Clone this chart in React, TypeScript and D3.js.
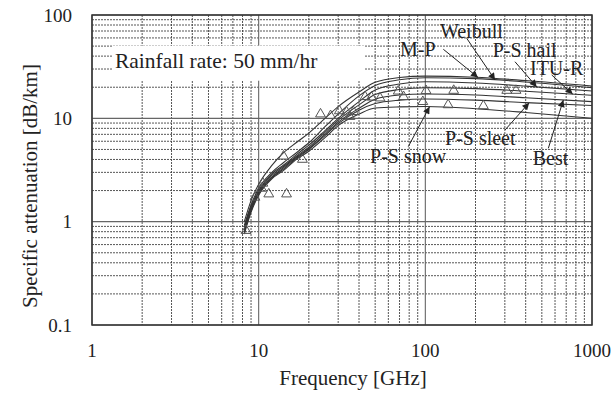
import React from "react";
import * as d3 from "d3";

const FREQS = [8.2, 9, 10, 12, 14, 17, 20, 25, 30, 40, 50, 70, 100, 200, 400, 1000];
const MP = [1.0, 1.6, 2.3, 3.5, 4.6, 5.9, 7.2, 10.0, 13.0, 18.0, 22.3, 24.8, 25.6, 25.0, 23.2, 20.5];
const WEIBULL = [0.92, 1.45, 2.1, 3.0, 3.7, 4.7, 5.8, 8.3, 11.0, 16.5, 20.8, 23.6, 24.7, 24.2, 22.5, 19.8];
const PS_HAIL = [0.88, 1.4, 2.0, 2.9, 3.5, 4.5, 5.5, 7.6, 10.0, 14.5, 18.8, 21.5, 22.6, 22.0, 20.5, 18.4];
const ITU_R = [0.85, 1.35, 1.95, 2.8, 3.4, 4.35, 5.25, 7.3, 9.6, 13.5, 17.0, 19.0, 19.8, 19.4, 18.3, 16.7];
const BEST = [0.82, 1.3, 1.9, 2.7, 3.3, 4.25, 5.1, 7.0, 9.2, 12.5, 15.3, 16.8, 17.2, 16.8, 15.8, 14.5];
const PS_SLEET = [0.79, 1.27, 1.85, 2.65, 3.2, 4.15, 5.0, 6.8, 8.9, 12.0, 13.9, 15.0, 15.4, 15.0, 14.2, 13.3];
const PS_SNOW = [0.76, 1.23, 1.8, 2.6, 3.1, 4.05, 4.8, 6.5, 8.5, 11.0, 12.6, 12.9, 13.0, 12.4, 11.4, 10.0];

const SERIES_NAMES = ["M-P", "Weibull", "P-S hail", "ITU-R", "Best", "P-S sleet", "P-S snow"];
const SERIES_VALUES = [MP, WEIBULL, PS_HAIL, ITU_R, BEST, PS_SLEET, PS_SNOW];

// measured points
const MEAS_FREQ = [8.4, 9.5, 10.4, 10.6, 11.5, 14.7, 14.1, 18.3, 23.5, 27, 30.5, 33.7, 35.3, 37, 43.5, 47.5, 53.5, 68.8, 74, 96.6, 101, 137, 148, 223, 308, 350];
const MEAS_ATT = [0.82, 1.72, 2.1, 2.35, 1.85, 1.85, 4.3, 4.0, 11.0, 10.6, 11.8, 11.5, 10.4, 11.6, 16.2, 16.0, 15.7, 18.3, 16.2, 14.5, 18.5, 13.5, 18.6, 13.2, 18.6, 18.6];

const X_TICKS = [1, 10, 100, 1000];
const X_TICK_LABELS = ["1", "10", "100", "1000"];
const Y_TICKS = [0.1, 1, 10, 100];
const Y_TICK_LABELS = ["0.1", "1", "10", "100"];

// annotations: label text, label anchor (freq, value), arrow start (freq, value), series index and tip freq
const ANN_LABELS = ["M-P", "Weibull", "P-S hail", "ITU-R", "P-S sleet", "P-S snow", "Best"];
const ANN_LABEL_F = [70.5, 122.4, 253.6, 424.6, 131.2, 46.6, 440.6];
const ANN_LABEL_V = [40.1, 59.9, 39.2, 26.4, 5.52, 3.72, 3.53];
const ANN_START_F = [128.2, 177, 345, 573, 300.6, 79.0, 547];
const ANN_START_V = [46.6, 59.6, 35.3, 26.3, 7.71, 5.32, 5.13];
const ANN_SERIES = [0, 1, 2, 3, 5, 6, 4];
const ANN_TIP_F = [207, 262, 466, 766, 420, 106, 673];

const RAIN_TEXT = "Rainfall rate: 50 mm/hr";
const RAIN_F = 1.374;
const RAIN_V = 30.9;

const W = 615;
const H = 393;
const M = { left: 92, right: 23, top: 15, bottom: 68 };
const FONT = "'Liberation Serif', 'Times New Roman', Times, serif";

function interpLog(fs: number[], vs: number[], f: number) {
  const lf = Math.log10(f);
  for (let i = 0; i < fs.length - 1; i++) {
    const a = Math.log10(fs[i]);
    const b = Math.log10(fs[i + 1]);
    if (lf >= a && lf <= b) {
      const t = (lf - a) / (b - a);
      return Math.pow(10, Math.log10(vs[i]) * (1 - t) + Math.log10(vs[i + 1]) * t);
    }
  }
  return vs[vs.length - 1];
}

export default function App() {
  const x = d3.scaleLog().domain([1, 1000]).range([M.left, W - M.right]);
  const y = d3.scaleLog().domain([0.1, 100]).range([H - M.bottom, M.top]);

  const minorX: number[] = [];
  const minorY: number[] = [];
  for (let dec = 1; dec < 1000; dec *= 10) {
    for (let k = 2; k <= 9; k++) minorX.push(dec * k);
  }
  for (let dec = 0.1; dec < 99; dec *= 10) {
    for (let k = 2; k <= 9; k++) minorY.push(dec * k);
  }

  const line = d3
    .line<number>()
    .x((_, i) => x(FREQS[i]))
    .y((d) => y(d))
    .curve(d3.curveMonotoneX);

  const tri = d3.symbol(d3.symbolTriangle, 42)() as string;

  const [x0, x1] = x.range();
  const [y0, y1] = y.range();

  const rainX = x(RAIN_F);
  const rainY = y(RAIN_V);
  const txt = { fontFamily: FONT, fill: "#222" };

  return (
    <svg width={W} height={H} style={{ display: "block", position: "absolute", left: 0, top: 0 }}>
      <defs>
        <marker id="arr" viewBox="0 0 10 10" refX="10" refY="5" markerWidth="9" markerHeight="7" markerUnits="userSpaceOnUse" orient="auto">
          <path d="M0,0 L10,5 L0,10 z" fill="#222" />
        </marker>
      </defs>
      <rect x={0} y={0} width={W} height={H} fill="#fff" />
      {/* minor grid */}
      {minorX.map((v) => (
        <line key={"mx" + v} x1={x(v)} x2={x(v)} y1={y1} y2={y0} stroke="#444" strokeWidth={0.9} strokeDasharray="2,1" />
      ))}
      {minorY.map((v) => (
        <line key={"my" + v} x1={x0} x2={x1} y1={y(v)} y2={y(v)} stroke="#444" strokeWidth={0.9} strokeDasharray="2,1" />
      ))}
      {/* major grid */}
      {X_TICKS.map((v) => (
        <line key={"Mx" + v} x1={x(v)} x2={x(v)} y1={y1} y2={y0} stroke="#666" strokeWidth={1.1} />
      ))}
      {Y_TICKS.map((v) => (
        <line key={"My" + v} x1={x0} x2={x1} y1={y(v)} y2={y(v)} stroke="#666" strokeWidth={1.1} />
      ))}
      {/* rainfall label box */}
      <rect x={rainX - 3} y={rainY - 22} width={253} height={35} fill="#fff" />
      <text x={rainX} y={rainY} fontSize={21.5} style={txt}>
        {RAIN_TEXT}
      </text>
      {/* curves */}
      {SERIES_VALUES.map((vals, i) => (
        <path key={SERIES_NAMES[i]} d={line(vals) as string} fill="none" stroke="#333" strokeWidth={1.1} />
      ))}
      {/* measured */}
      {MEAS_FREQ.map((f, i) => (
        <path key={"m" + i} d={tri} transform={`translate(${x(f)},${y(MEAS_ATT[i])})`} fill="none" stroke="#555" strokeWidth={1} />
      ))}
      {/* annotations */}
      {ANN_LABELS.map((t, i) => {
        const tf = ANN_TIP_F[i];
        const tv = interpLog(FREQS, SERIES_VALUES[ANN_SERIES[i]], tf);
        return (
          <g key={"a" + i}>
            <line x1={x(ANN_START_F[i])} y1={y(ANN_START_V[i])} x2={x(tf)} y2={y(tv)} stroke="#222" strokeWidth={1} markerEnd="url(#arr)" />
            <text x={x(ANN_LABEL_F[i])} y={y(ANN_LABEL_V[i])} fontSize={20} style={txt}>
              {t}
            </text>
          </g>
        );
      })}
      {/* frame */}
      <rect x={x0} y={y1} width={x1 - x0} height={y0 - y1} fill="none" stroke="#333" strokeWidth={1.5} />
      {/* tick labels */}
      {X_TICKS.map((v, i) => (
        <text key={"xt" + v} x={x(v)} y={y0 + 32} textAnchor="middle" fontSize={19} style={txt}>
          {X_TICK_LABELS[i]}
        </text>
      ))}
      {Y_TICKS.map((v, i) => (
        <text key={"yt" + v} x={x0 - 20} y={y(v) + 6.5} textAnchor="end" fontSize={19} style={txt}>
          {Y_TICK_LABELS[i]}
        </text>
      ))}
      <text x={353} y={385} textAnchor="middle" fontSize={21} style={txt}>
        Frequency [GHz]
      </text>
      <text transform={`translate(37,186) rotate(-90)`} textAnchor="middle" fontSize={21} style={txt}>
        Specific attenuation [dB/km]
      </text>
    </svg>
  );
}
